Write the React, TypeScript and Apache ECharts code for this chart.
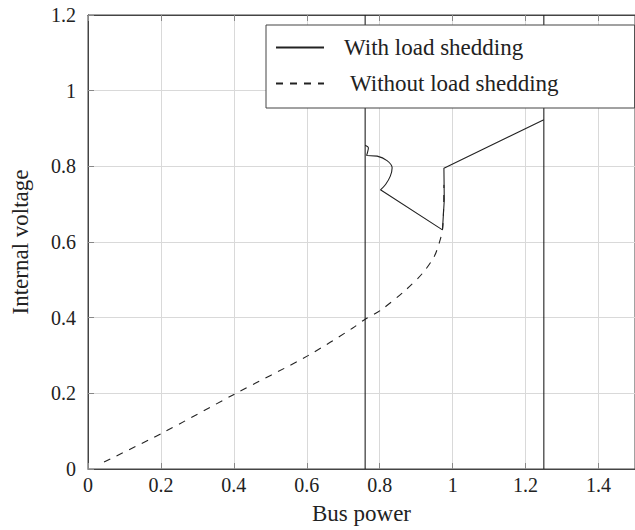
import React, { useEffect, useRef } from "react";
import * as echarts from "echarts";

// With load shedding: curved hook/loop near Bus power 0.76-0.84
const loopX = [0.760, 0.769, 0.766, 0.764, 0.793, 0.820, 0.834, 0.829, 0.816, 0.802];
const loopY = [0.856, 0.849, 0.835, 0.829, 0.827, 0.815, 0.796, 0.774, 0.752, 0.738];

// With load shedding: straight part of the trajectory
const shedX = [0.802, 0.972, 0.977, 0.976, 1.250];
const shedY = [0.738, 0.632, 0.711, 0.795, 0.923];

// Vertical boundaries (part of the "with load shedding" curve)
const vLine1X = [0.76, 0.76];
const vLine1Y = [0, 1.2];
const vLine2X = [1.25, 1.25];
const vLine2Y = [0, 1.2];

// Without load shedding
const noShedX = [0.044, 0.2015, 0.402, 0.602, 0.725, 0.760, 0.803, 0.871, 0.917, 0.949, 0.963, 0.972, 0.975, 0.976];
const noShedY = [0.0185, 0.094, 0.198, 0.299, 0.372, 0.396, 0.420, 0.473, 0.517, 0.561, 0.597, 0.632, 0.685, 0.751];

const seriesNames = ["With load shedding", "Without load shedding"];
const xAxisName = "Bus power";
const yAxisName = "Internal voltage";

const zip = (xs: number[], ys: number[]) => xs.map((x, i) => [x, ys[i]]);

const FONT = "Liberation Serif";
const INK = "#222";

export default function App() {
  const ref = useRef<HTMLDivElement>(null);
  useEffect(() => {
    if (!ref.current) return;
    const chart = echarts.init(ref.current, undefined, { renderer: "svg" });
    const solid = { color: INK, width: 1.1, type: "solid" as const };
    const dashed = { color: INK, width: 1.1, type: [7, 7] as number[] };
    chart.setOption({
      animation: false,
      backgroundColor: "#fff",
      textStyle: { fontFamily: FONT },
      grid: {
        left: 88,
        top: 15,
        width: 549,
        height: 454,
        show: true,
        borderColor: "#444",
        borderWidth: 1,
        backgroundColor: "transparent",
      },
      legend: {
        orient: "vertical",
        left: 266,
        top: 25,
        padding: [11, 76, 13, 9],
        itemWidth: 48,
        itemHeight: 14,
        itemGap: 13,
        backgroundColor: "#fff",
        borderColor: "#444",
        borderWidth: 1,
        borderRadius: 0,
        itemStyle: { opacity: 0 },
        textStyle: { fontFamily: FONT, fontSize: 23, color: INK, lineHeight: 22 },
        data: [
          { name: seriesNames[0], textStyle: { padding: [0, 0, 0, 15] } },
          { name: seriesNames[1], textStyle: { padding: [0, 0, 0, 21] } },
        ],
      },
      xAxis: [
        {
          type: "value",
          min: 0,
          max: 1.5,
          interval: 0.2,
          name: xAxisName,
          nameLocation: "middle",
          nameGap: 33,
          nameTextStyle: { fontFamily: FONT, fontSize: 23, color: INK },
          axisLine: { show: true, onZero: false, lineStyle: { color: "#444", width: 1 } },
          axisTick: { show: true, inside: true, length: 6, lineStyle: { color: "#888" } },
          axisLabel: {
            fontFamily: FONT,
            fontSize: 20,
            color: INK,
            margin: 6,
            showMaxLabel: false,
          },
          splitLine: { show: true, lineStyle: { color: "#d9d9d9", width: 1 } },
        },
        {
          type: "value",
          position: "top",
          min: 0,
          max: 1.5,
          interval: 0.2,
          axisLine: { show: true, onZero: false, lineStyle: { color: "#444", width: 1 } },
          axisTick: { show: true, inside: true, length: 6, lineStyle: { color: "#888" } },
          axisLabel: { show: false },
          splitLine: { show: false },
        },
      ],
      yAxis: {
        type: "value",
        min: 0,
        max: 1.2,
        interval: 0.2,
        name: yAxisName,
        nameLocation: "middle",
        nameGap: 56,
        nameTextStyle: { fontFamily: FONT, fontSize: 23, color: INK },
        axisLine: { show: true, onZero: false, lineStyle: { color: "#444", width: 1 } },
        axisTick: { show: true, inside: true, length: 6, lineStyle: { color: "#888" } },
        axisLabel: { fontFamily: FONT, fontSize: 20, color: INK, margin: 12 },
        splitLine: { show: true, lineStyle: { color: "#d9d9d9", width: 1 } },
      },
      series: [
        {
          name: seriesNames[0],
          type: "line",
          data: zip(loopX, loopY),
          symbol: "none",
          smooth: 0.35,
          lineStyle: solid,
          itemStyle: { color: INK },
          z: 3,
        },
        {
          name: seriesNames[0],
          type: "line",
          data: zip(shedX, shedY),
          symbol: "none",
          smooth: false,
          lineStyle: solid,
          itemStyle: { color: INK },
          z: 3,
        },
        {
          name: seriesNames[0],
          type: "line",
          data: zip(vLine1X, vLine1Y),
          symbol: "none",
          lineStyle: solid,
          itemStyle: { color: INK },
          z: 3,
        },
        {
          name: seriesNames[0],
          type: "line",
          data: zip(vLine2X, vLine2Y),
          symbol: "none",
          lineStyle: solid,
          itemStyle: { color: INK },
          z: 3,
        },
        {
          name: seriesNames[1],
          type: "line",
          data: zip(noShedX, noShedY),
          symbol: "none",
          smooth: 0.3,
          lineStyle: dashed,
          itemStyle: { color: INK },
          z: 3,
        },
      ],
    });
    return () => chart.dispose();
  }, []);
  return (
    <div
      ref={ref}
      style={{ position: "absolute", left: 0, top: 0, width: 635, height: 530 }}
    />
  );
}
